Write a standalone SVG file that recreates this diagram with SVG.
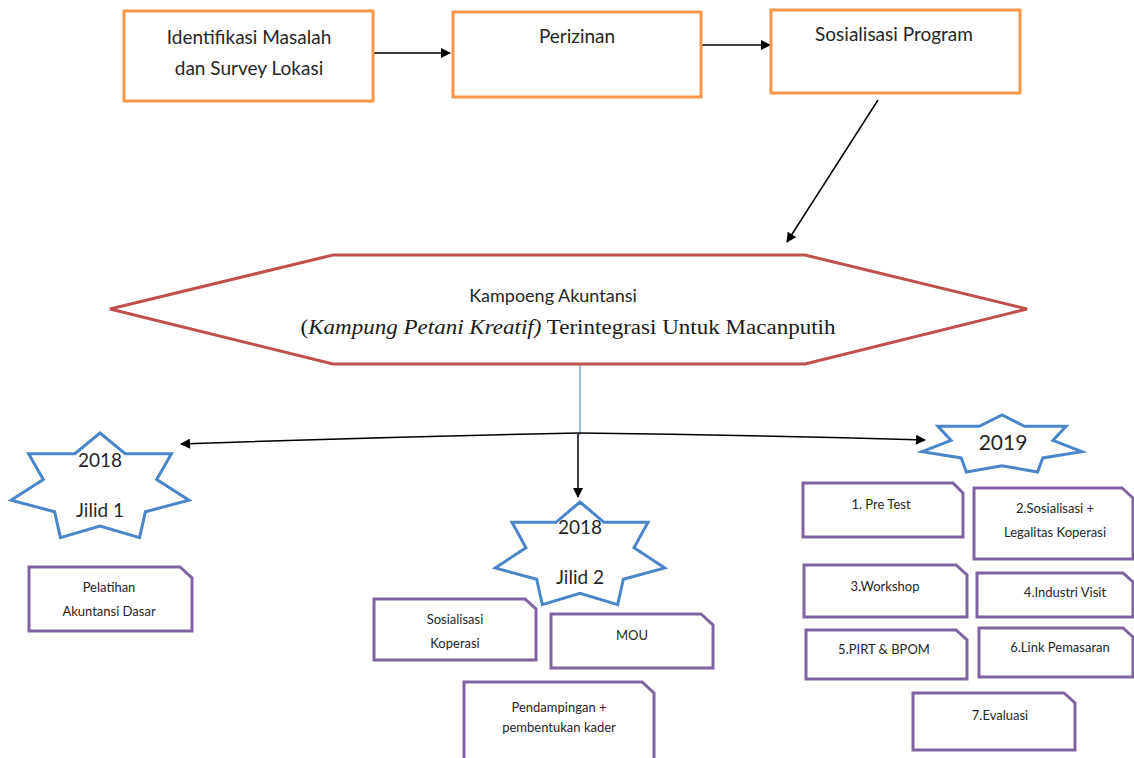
<svg xmlns="http://www.w3.org/2000/svg" width="1134" height="758" viewBox="0 0 1134 758">
<style>
.ob{fill:#fff;stroke:#F79646;stroke-width:3}
.hex{fill:#fff;stroke:#C0504D;stroke-width:3}
.star{fill:#fff;stroke:#4A86C8;stroke-width:3;stroke-linejoin:miter}
.pb{fill:#fff;stroke:#8064A2;stroke-width:3}
.t{font-family:Lato,"Liberation Sans",sans-serif;fill:#262626;text-anchor:middle}
.t19{font-size:19px}
.t13{font-size:13px}
.ser{font-family:"Liberation Serif",serif;font-size:20px;fill:#1a1a1a;text-anchor:middle}
.c{fill:none;stroke:#000;stroke-width:1.5}
</style>
<defs>
<marker id="ah" viewBox="0 0 10 10" refX="9" refY="5" markerWidth="11" markerHeight="10" markerUnits="userSpaceOnUse" orient="auto">
<path d="M0,0 L10,5 L0,10 Z" fill="#000"/>
</marker>
</defs>
<rect width="1134" height="758" fill="#fff"/>

<g id="connectors">
<line class="c" x1="373" y1="53" x2="450" y2="53" marker-end="url(#ah)"/>
<line x1="701" y1="45" x2="770" y2="45" stroke="#444" stroke-width="2" marker-end="url(#ah)"/>
<line class="c" x1="878" y1="100" x2="787" y2="242" marker-end="url(#ah)"/>
<line x1="580" y1="365" x2="580" y2="435" stroke="#4472C4" stroke-width="1"/>
<path class="c" d="M579,433 Q380,437 181,444" marker-end="url(#ah)"/>
<path class="c" d="M579,433 Q750,435 925,440" marker-end="url(#ah)"/>
<line class="c" x1="578" y1="434" x2="578" y2="497" marker-end="url(#ah)"/>
</g>

<g id="n-identifikasi">
<rect class="ob" x="124" y="11" width="249" height="90"/>
<text class="t t19" x="249" y="44">Identifikasi Masalah</text>
<text class="t t19" x="249" y="75">dan Survey Lokasi</text>
</g>
<g id="n-perizinan">
<rect class="ob" x="453" y="12" width="248" height="85"/>
<text class="t t19" x="577" y="43">Perizinan</text>
</g>
<g id="n-sosialisasi-program">
<rect class="ob" x="771" y="10" width="249" height="83"/>
<text class="t t19" x="894" y="41">Sosialisasi Program</text>
</g>

<g id="n-kampoeng">
<polygon class="hex" points="110,309 333,255 805,255 1027,309 805,364 333,364"/>
<text class="t" font-size="18" x="553" y="302">Kampoeng Akuntansi</text>
<text class="ser" x="568" y="334" textLength="535" lengthAdjust="spacingAndGlyphs">(<tspan font-style="italic">Kampung Petani Kreatif)</tspan> Terintegrasi Untuk Macanputih</text>
</g>

<g id="n-jilid1">
<polygon class="star" points="11,500.2 43.3,479.5 28.6,453.7 74.8,453.7 100,433 125.2,453.7 171.4,453.7 156.7,479.5 189,500.2 145.4,511.7 139.6,537.6 100,526.1 60.4,537.6 54.6,511.7"/>
<text class="t t19" x="100" y="467">2018</text>
<text class="t t19" x="100" y="517">Jilid 1</text>
</g>
<g id="n-jilid2">
<polygon class="star" points="495.2,568 526,547.7 512,522.3 556,522.3 580,502 604,522.3 648,522.3 634,547.7 664.8,568 623.3,579.3 617.7,604.7 580,593.4 542.3,604.7 536.7,579.3"/>
<text class="t t19" x="580" y="534">2018</text>
<text class="t t19" x="580" y="584">Jilid 2</text>
</g>
<g id="n-2019">
<polygon class="star" points="922.1,451.7 951.1,440.4 937.9,426.3 979.4,426.3 1002,415 1024.6,426.3 1066.1,426.3 1052.9,440.4 1081.9,451.7 1042.8,457.9 1037.6,472 1002,465.8 966.4,472 961.2,457.9"/>
<text class="t" font-size="21" x="1003" y="450">2019</text>
</g>

<g id="n-pelatihan">
<path class="pb" d="M29,567 H180 L192,578 V631 H29 Z"/>
<text class="t t13" x="109" y="592">Pelatihan</text>
<text class="t t13" x="109" y="616">Akuntansi Dasar</text>
</g>
<g id="n-sos-koperasi">
<path class="pb" d="M374,599 H525 L536,609 V660 H374 Z"/>
<text class="t t13" x="455" y="624">Sosialisasi</text>
<text class="t t13" x="455" y="648">Koperasi</text>
</g>
<g id="n-mou">
<path class="pb" d="M551,614 H701 L713,625 V668 H551 Z"/>
<text class="t t13" x="632" y="640">MOU</text>
</g>
<g id="n-pendampingan">
<path class="pb" d="M464,682 H642 L654,693 V762 H464 Z"/>
<text class="t t13" x="559" y="712">Pendampingan +</text>
<text class="t t13" x="559" y="732">pembentukan kader</text>
</g>

<g id="n-pretest">
<path class="pb" d="M803,483 H953 L963,493 V537 H803 Z"/>
<text class="t t13" x="881" y="509">1. Pre Test</text>
</g>
<g id="n-sos-legal">
<path class="pb" d="M974,488 H1122 L1133,498 V559 H974 Z"/>
<text class="t t13" x="1055" y="513">2.Sosialisasi +</text>
<text class="t t13" x="1055" y="537">Legalitas Koperasi</text>
</g>
<g id="n-workshop">
<path class="pb" d="M804,565 H956 L967,575 V617 H804 Z"/>
<text class="t t13" x="885" y="591">3.Workshop</text>
</g>
<g id="n-industri">
<path class="pb" d="M977,573 H1123 L1133,582 V617 H977 Z"/>
<text class="t t13" x="1065" y="597">4.Industri Visit</text>
</g>
<g id="n-pirt">
<path class="pb" d="M806,630 H956 L967,640 V679 H806 Z"/>
<text class="t t13" x="884" y="654">5.PIRT &amp; BPOM</text>
</g>
<g id="n-link">
<path class="pb" d="M979,628 H1123 L1133,637 V677 H979 Z"/>
<text class="t t13" x="1060" y="652">6.Link Pemasaran</text>
</g>
<g id="n-evaluasi">
<path class="pb" d="M913,693 H1064 L1075,703 V750 H913 Z"/>
<text class="t t13" x="1000" y="720">7.Evaluasi</text>
</g>
</svg>
